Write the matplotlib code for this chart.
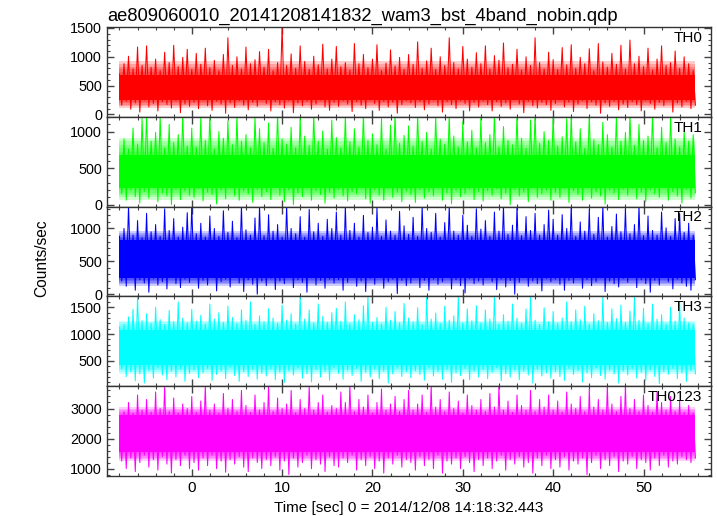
import numpy as np
import matplotlib.pyplot as plt
from matplotlib.ticker import MultipleLocator

plt.rcParams["font.family"] = ["Liberation Sans", "DejaVu Sans"]
plt.rcParams["font.size"] = 11

# time bins (0.5 s), first bin starts at -8 s
bin_start = -8.0
bin_width = 0.5

# per-bin maxima / minima (counts/sec)
th0_peaks = [700, 880, 1010, 790, 1170, 850, 1190, 820, 960, 760, 1080, 900, 1200, 830, 990, 1130,
             780, 1060, 870, 1150, 810, 940, 760, 1040, 1330, 850, 1000, 790, 1170, 880, 950, 1090,
             820, 1130, 760, 900, 1520, 850, 1050, 800, 1190, 920, 780, 1010, 860, 1220, 790, 960,
             1180, 830, 900, 770, 1230, 880, 1040, 810, 960, 1210, 760, 890, 1120, 840, 990, 780,
             1040, 870, 1260, 800, 930, 1150, 780, 1000, 850, 1330, 900, 790, 1180, 960, 820, 1070,
             880, 1190, 790, 1020, 940, 1240, 810, 870, 1130, 770, 1000, 850, 1330, 900, 790, 1080,
             950, 780, 1160, 860, 1210, 800, 990, 880, 1140, 760, 1230, 910, 820, 1060, 870, 1200,
             790, 1290, 880, 1010, 830, 1150, 770, 960, 1190, 850, 900, 1100, 800, 1000, 880, 760]
th0_dips = [160, 230, 90, 200, 40, 250, 130, 190, 60, 220, 170, 110, 240, 30, 180, 140,
            210, 100, 250, 150, 70, 230, 180, 20, 200, 120, 240, 160, 80, 210, 140, 250,
            190, 60, 220, 170, 110, 240, 30, 200, 150, 230, 90, 180, 250, 130, 70, 210,
            140, 240, 180, 50, 220, 160, 100, 250, 190, 70, 230, 130, 210, 20, 170, 240,
            200, 120, 230, 80, 180, 250, 150, 40, 220, 170, 100, 240, 190, 60, 210, 130,
            240, 170, 60, 220, 140, 200, 90, 250, 180, 30, 230, 150, 110, 210, 170, 70,
            190, 250, 130, 210, 50, 180, 240, 100, 220, 160, 20, 200, 140, 230, 80, 180,
            120, 220, 170, 60, 240, 190, 90, 210, 150, 250, 40, 200, 130, 230, 100, 160]

th1_peaks = [620, 900, 760, 1050, 830, 1180, 1250, 870, 990, 1220, 780, 1100, 850, 960, 1240, 800,
             1050, 790, 1190, 880, 1250, 760, 1000, 910, 1150, 820, 1230, 870, 960, 780, 1210, 1040,
             850, 1120, 770, 1250, 900, 830, 1060, 780, 1200, 940, 810, 1250, 870, 1010, 760, 1160,
             920, 780, 1230, 860, 1040, 790, 1250, 880, 970, 820, 1180, 760, 1090, 1250, 840, 950,
             1080, 800, 1250, 870, 990, 760, 1210, 900, 830, 1250, 940, 790, 1140, 860, 1020, 780,
             1190, 850, 960, 1250, 790, 1070, 880, 820, 1250, 910, 770, 1160, 1250, 840, 1000, 880,
             1250, 800, 930, 1180, 1250, 860, 1040, 770, 1250, 890, 820, 1130, 960, 790, 1220, 870,
             990, 1250, 810, 1100, 880, 940, 1250, 780, 1060, 850, 1230, 900, 790, 1010, 870, 960]
th1_dips = [150, 60, 200, 110, 20, 180, 90, 230, 40, 160, 120, 0, 210, 70, 190, 130,
            100, 220, 50, 170, 140, 10, 200, 80, 230, 120, 60, 190, 150, 30, 210, 110,
            180, 70, 230, 130, 40, 200, 0, 160, 110, 220, 60, 190, 140, 20, 170, 90,
            210, 120, 50, 180, 150, 230, 80, 20, 200, 130, 60, 220, 100, 170, 40, 190,
            140, 30, 210, 90, 180, 120, 230, 60, 160, 10, 200, 110, 150, 220, 70, 180,
            50, 190, 130, 220, 80, 160, 0, 210, 120, 170, 40, 230, 100, 150, 200, 60,
            170, 100, 220, 30, 190, 140, 60, 230, 90, 180, 120, 10, 200, 160, 70, 210,
            130, 220, 80, 170, 40, 200, 150, 100, 230, 60, 180, 120, 20, 210, 90, 160]

th2_peaks = [880, 1000, 1340, 900, 1120, 860, 1230, 950, 1060, 880, 1300, 970, 1150, 870, 1020, 1240,
             1340, 920, 1080, 870, 1190, 1000, 880, 1270, 940, 1110, 860, 1340, 980, 900, 1160, 1340,
             890, 1210, 960, 1060, 870, 1340, 1000, 920, 1180, 870, 1290, 950, 1080, 880, 1140, 1000,
             1250, 900, 1340, 970, 1080, 870, 1200, 940, 1020, 1310, 880, 1130, 960, 900, 1260, 1040,
             910, 1170, 880, 1340, 1000, 940, 1230, 870, 1090, 1340, 960, 900, 1200, 1050, 880, 1300,
             990, 1120, 880, 1250, 960, 1340, 910, 1050, 1340, 890, 1180, 970, 1230, 900, 1060, 1280,
             1140, 900, 1210, 1000, 1340, 880, 1100, 960, 1290, 910, 1170, 1340, 870, 1030, 1220, 950,
             1300, 920, 1060, 1340, 890, 1190, 970, 900, 1250, 1010, 880, 1150, 1230, 940, 1080, 900]
th2_dips = [200, 120, 260, 60, 220, 170, 30, 240, 140, 190, 80, 270, 160, 100, 230, 180,
            250, 90, 210, 140, 270, 50, 190, 230, 110, 260, 170, 40, 220, 150, 0, 200,
            130, 240, 70, 200, 160, 270, 100, 220, 180, 30, 250, 140, 210, 90, 230, 170,
            220, 60, 180, 260, 120, 200, 40, 240, 150, 270, 90, 190, 230, 10, 210, 130,
            170, 250, 100, 210, 60, 230, 150, 190, 270, 80, 220, 130, 20, 240, 160, 200,
            140, 260, 190, 70, 230, 110, 210, 0, 180, 250, 120, 200, 160, 50, 240, 190,
            230, 150, 60, 210, 170, 270, 90, 220, 130, 190, 250, 40, 200, 160, 110, 240,
            180, 250, 100, 220, 160, 30, 210, 140, 260, 190, 80, 230, 170, 120, 60, 220]

th3_peaks = [1130, 1180, 1320, 1460, 1700, 1250, 1380, 1200, 1500, 1270, 1180, 1440, 1230, 1600, 1300, 1210,
             1460, 1240, 1350, 1190, 1560, 1280, 1400, 1220, 1520, 1310, 1200, 1450, 1260, 1600, 1180, 1340,
             1230, 1470, 1300, 1200, 1540, 1260, 1380, 1190, 1700, 1280, 1450, 1210, 1560, 1330, 1220, 1400,
             1480, 1240, 1600, 1200, 1360, 1270, 1530, 1700, 1220, 1310, 1190, 1500, 1260, 1420, 1210, 1570,
             1300, 1230, 1490, 1180, 1700, 1280, 1390, 1200, 1520, 1260, 1340, 1700, 1210, 1470, 1250, 1530,
             1210, 1450, 1280, 1700, 1190, 1360, 1240, 1560, 1300, 1200, 1470, 1700, 1260, 1180, 1490, 1230,
             1420, 1200, 1300, 1600, 1230, 1450, 1270, 1520, 1190, 1380, 1250, 1700, 1220, 1470, 1290, 1540,
             1220, 1430, 1700, 1260, 1480, 1200, 1560, 1280, 1360, 1190, 1500, 1240, 1600, 1300, 1210, 1180]
th3_dips = [350, 210, 300, 130, 260, 90, 320, 180, 380, 240, 150, 310, 200, 350, 120, 270,
            330, 190, 280, 360, 140, 250, 310, 170, 390, 230, 120, 300, 210, 340, 160, 270,
            220, 350, 150, 290, 100, 320, 240, 370, 180, 260, 110, 340, 200, 300, 140, 380,
            270, 160, 330, 230, 360, 120, 290, 200, 350, 170, 310, 90, 260, 380, 210, 300,
            190, 320, 250, 140, 370, 220, 300, 160, 340, 100, 280, 230, 360, 150, 310, 200,
            340, 170, 290, 380, 130, 260, 200, 330, 150, 310, 240, 90, 350, 220, 280, 180,
            300, 210, 140, 360, 250, 320, 110, 280, 190, 370, 230, 160, 330, 260, 90, 310,
            240, 350, 180, 290, 140, 330, 210, 80, 300, 250, 360, 170, 280, 120, 320, 260]

th0123_peaks = [2750, 2900, 3200, 2850, 3450, 2950, 3300, 2880, 3550, 3000, 3750, 2900, 3350, 2850, 3150, 3000,
                3400, 2880, 3250, 3750, 2950, 3150, 2850, 3500, 3000, 3300, 2900, 3600, 3100, 2870, 3450, 2950,
                3200, 3750, 2900, 3350, 3000, 3150, 3600, 2860, 3300, 3000, 3750, 2950, 3200, 3450, 2880, 3100,
                3000, 3550, 3200, 3750, 2900, 3300, 3050, 3450, 2850, 3200, 3650, 2950, 3150, 3400, 2900, 3300,
                3600, 2950, 3150, 3450, 2880, 3750, 3050, 3300, 2900, 3550, 3000, 3250, 2850, 3450, 3100, 2950,
                3300, 2900, 3500, 3050, 3750, 2950, 3250, 2870, 3450, 3100, 2950, 3600, 2900, 3300, 3050, 3450,
                2950, 3250, 2880, 3550, 3150, 3000, 3400, 2900, 3650, 3050, 3300, 2950, 3750, 3150, 2900, 3400,
                3750, 3000, 3300, 2900, 3450, 3100, 2880, 3550, 3200, 2950, 3400, 2900, 3250, 2880, 3100, 2850]
th0123_dips = [1250, 1000, 1350, 900, 1200, 1450, 1050, 1300, 950, 1400, 1150, 850, 1300, 1100, 1450, 1000,
               1200, 950, 1350, 1100, 1450, 1000, 1250, 880, 1300, 1150, 1400, 1050, 900, 1350, 1200, 1000,
               1300, 1100, 1400, 950, 1250, 800, 1350, 1050, 1200, 1450, 1000, 1300, 1150, 900, 1400, 1100,
               1050, 1350, 1200, 1450, 950, 1300, 1100, 1400, 1000, 1250, 850, 1350, 1150, 1450, 1050, 1300,
               1200, 950, 1400, 1100, 1300, 1000, 1450, 850, 1250, 1150, 1350, 1000, 1400, 1200, 900, 1300,
               1100, 1350, 1000, 1250, 1450, 950, 1300, 1150, 1400, 1050, 1200, 850, 1350, 1100, 1450, 1000,
               1300, 1050, 1400, 950, 1250, 1150, 1350, 800, 1200, 1450, 1000, 1300, 1100, 1400, 900, 1250,
               1150, 1400, 1000, 1300, 1200, 950, 1350, 1100, 1450, 1050, 1250, 1150, 1400, 1300, 1200, 1350]

# solid core of each band, and the wider dense (partly covered) zone around it
core_lo = [250, 230, 240, 420, 1550]
core_hi = [680, 680, 820, 1080, 2800]
dense_lo = [110, 70, 130, 260, 1250]
dense_hi = [930, 920, 960, 1250, 3050]

names = ["TH0", "TH1", "TH2", "TH3", "TH0123"]
colors = ["#ff0000", "#00ff00", "#0000ff", "#00ffff", "#ff00ff"]
peaks = [th0_peaks, th1_peaks, th2_peaks, th3_peaks, th0123_peaks]
dips = [th0_dips, th1_dips, th2_dips, th3_dips, th0123_dips]
ylims = [(-40, 1520), (-27, 1205), (-35, 1333), (27, 1700), (746, 3736)]
ymajor = [500, 500, 500, 500, 1000]
yminor = [100, 100, 100, 100, 200]

fig, axes = plt.subplots(5, 1, sharex=True, figsize=(7.17, 5.16), dpi=100)
fig.subplots_adjust(left=0.149, right=0.992, top=0.948, bottom=0.077, hspace=0)

n_fade = 5
for i, ax in enumerate(axes):
    n = len(peaks[i])
    t = bin_start + bin_width * np.arange(n)
    x = np.column_stack([t, t + bin_width / 2]).ravel()
    y = np.column_stack([peaks[i], dips[i]]).ravel()
    span = [t[0], x[-1]]
    # soft edge: stacked translucent fills from the dense zone in to the core
    for k in range(n_fade):
        f = k / n_fade
        lo = dense_lo[i] + (core_lo[i] - dense_lo[i]) * f
        hi = dense_hi[i] + (core_hi[i] - dense_hi[i]) * f
        ax.fill_between(span, lo, hi, color=colors[i], alpha=0.2, lw=0)
    ax.fill_between(span, core_lo[i], core_hi[i], color=colors[i], lw=0)
    ax.plot(x, y, color=colors[i], lw=0.75)
    ax.set_ylim(*ylims[i])
    ax.yaxis.set_major_locator(MultipleLocator(ymajor[i]))
    ax.yaxis.set_minor_locator(MultipleLocator(yminor[i]))
    ax.xaxis.set_major_locator(MultipleLocator(10))
    ax.xaxis.set_minor_locator(MultipleLocator(2))
    ax.tick_params(which="both", direction="in", top=True, right=True, color="#444444")
    ax.tick_params(which="major", length=5, width=1)
    ax.tick_params(which="minor", length=2.5, width=0.8)
    ax.tick_params(axis="y", labelsize=10.4)
    for s in ax.spines.values():
        s.set_color("#333333")
        s.set_linewidth(1.0)
    ax.text(0.985, 0.88, names[i], transform=ax.transAxes, ha="right", va="center")

axes[-1].set_xlim(-9.4, 57.5)
axes[-1].set_xlabel("Time [sec] 0 = 2014/12/08 14:18:32.443", labelpad=4)
axes[0].set_title("ae809060010_20141208141832_wam3_bst_4band_nobin.qdp", loc="left", pad=4)
fig.text(0.058, 0.5, "Counts/sec", rotation=90, ha="center", va="center", fontsize=11.2)

plt.savefig("out.png", dpi=100)
